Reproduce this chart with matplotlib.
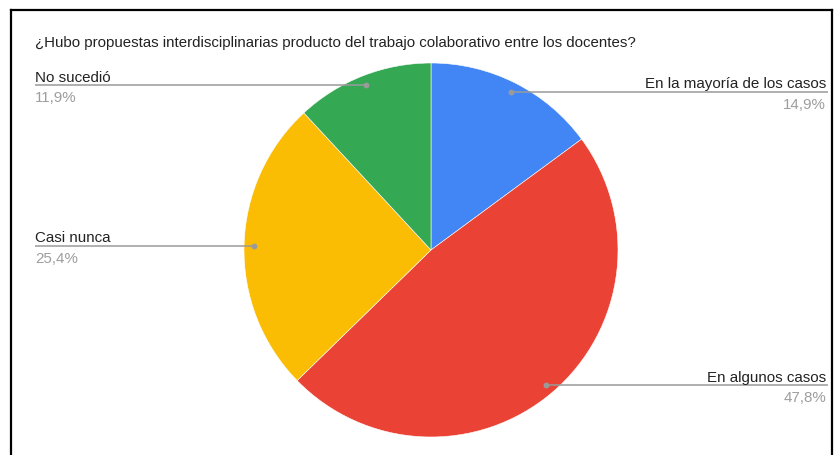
import numpy as np
import matplotlib
matplotlib.use("Agg")
import matplotlib.pyplot as plt
from matplotlib.lines import Line2D

title = "¿Hubo propuestas interdisciplinarias producto del trabajo colaborativo entre los docentes?"
categories = ["En la mayoría de los casos", "En algunos casos", "Casi nunca", "No sucedió"]
values = [14.9, 47.8, 25.4, 11.9]
pct_labels = ["14,9%", "47,8%", "25,4%", "11,9%"]
colors = ["#4285F4", "#EA4335", "#FBBC04", "#34A853"]

plt.rcParams['font.family'] = ['Liberation Sans', 'DejaVu Sans']

W, H = 837, 456
fig = plt.figure(figsize=(W / 100, H / 100), dpi=100)
ax = fig.add_axes([0, 0, 1, 1])

cx, cy, R = 431, H - 251, 187
wedges, _ = ax.pie(values, colors=colors, startangle=90, counterclock=False,
                   center=(cx, cy), radius=R, frame=True,
                   wedgeprops=dict(edgecolor='white', linewidth=0.4))
ax.set_xlim(0, W)
ax.set_ylim(0, H)
ax.set_aspect('equal')
ax.axis('off')

left_x, right_x = 35, 828
label_color = "#222222"
pct_color = "#9e9e9e"
line_color = "#9a9a9a"
fs = 10.9
for w, cat, pct in zip(wedges, categories, pct_labels):
    ang = np.deg2rad((w.theta1 + w.theta2) / 2)
    r = 0.947 * R
    px = cx + r * np.cos(ang)
    py = cy + r * np.sin(ang)
    if px >= cx:
        ex = right_x
        ha = 'right'
        tx = right_x - 2
    else:
        ex = left_x
        ha = 'left'
        tx = left_x
    ax.plot([px, ex], [py, py], color=line_color, lw=1.1, solid_capstyle='butt', zorder=3)
    ax.plot([px], [py], 'o', ms=4.2, color=line_color, mec='none', zorder=4)
    ax.text(tx, py + 4.5, cat, ha=ha, va='baseline', fontsize=fs, color=label_color)
    ax.text(tx, py - 5, pct, ha=ha, va='top', fontsize=fs, color=pct_color)

ax.text(35, H - 47, title, ha='left', va='baseline', fontsize=10.85, color="#222222")

# frame lines (top, left, right)
lw = 1.6
fig.add_artist(Line2D([11 / W, 832 / W], [1 - 11 / H, 1 - 11 / H], color='black', lw=lw))
fig.add_artist(Line2D([11 / W, 11 / W], [0, 1 - 11 / H], color='black', lw=lw))
fig.add_artist(Line2D([832 / W, 832 / W], [0, 1 - 11 / H], color='black', lw=lw))

fig.savefig("out.png", dpi=100, facecolor='white')
